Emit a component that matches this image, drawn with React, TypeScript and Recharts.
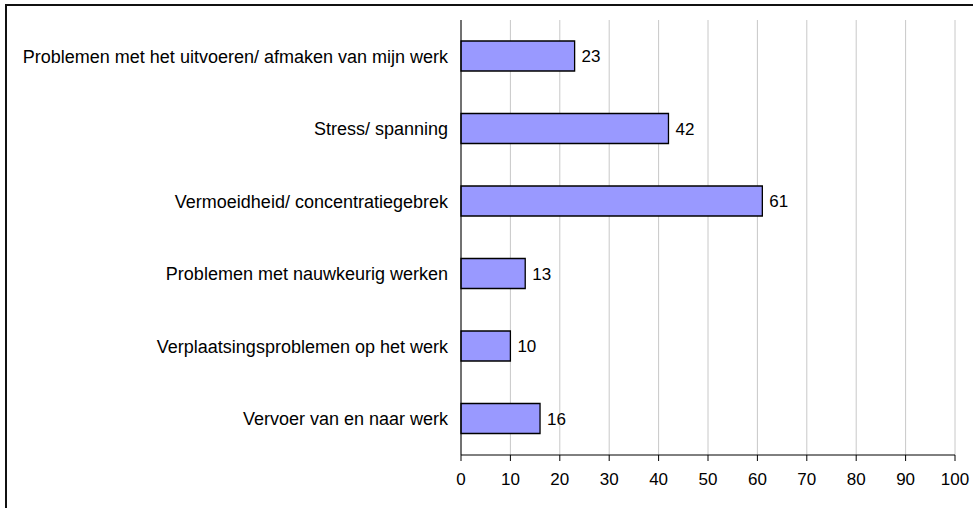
import { BarChart, Bar, XAxis, YAxis, CartesianGrid, LabelList } from 'recharts';

const categories = [
  'Problemen met het uitvoeren/ afmaken van mijn werk',
  'Stress/ spanning',
  'Vermoeidheid/ concentratiegebrek',
  'Problemen met nauwkeurig werken',
  'Verplaatsingsproblemen op het werk',
  'Vervoer van en naar werk',
];
const values = [23, 42, 61, 13, 10, 16];
const xTicks = [0, 10, 20, 30, 40, 50, 60, 70, 80, 90, 100];
const bandEdges = [0, 1, 2, 3, 4, 5, 6];

const data = categories.map((name, i) => ({ name, value: values[i] }));

const FONT = '"Liberation Sans", Arial, sans-serif';

// empty tick label, only the tick line is wanted
const NoLabel = () => <g />;

const App = () => {
  return (
    <div
      style={{
        position: 'absolute',
        left: 0,
        top: 0,
        width: 973,
        height: 508,
        overflow: 'hidden',
        background: '#fff',
        fontFamily: FONT,
      }}
    >
      <div
        style={{
          position: 'absolute',
          left: 5,
          top: 4,
          width: 1000,
          height: 600,
          borderTop: '2px solid #111',
          borderLeft: '2px solid #111',
        }}
      />
      <div style={{ position: 'absolute', left: 0, top: 0 }}>
        <BarChart
          width={973}
          height={508}
          data={data}
          layout='vertical'
          margin={{ top: 20, right: 18, bottom: 0, left: 0 }}
        >
          <CartesianGrid horizontal={false} stroke='#c8c8c8' />
          <XAxis
            type='number'
            domain={[0, 100]}
            ticks={xTicks}
            interval={0}
            height={53}
            tickSize={6}
            tickMargin={12}
            axisLine={{ stroke: '#000' }}
            tickLine={{ stroke: '#000' }}
            tick={{ fontSize: 17, fill: '#000', fontFamily: FONT }}
          />
          <XAxis
            xAxisId='top'
            orientation='top'
            type='number'
            domain={[0, 100]}
            height={0}
            tick={false}
            tickLine={false}
            axisLine={{ stroke: '#999' }}
          />
          <YAxis
            type='category'
            dataKey='name'
            width={461}
            tickLine={false}
            axisLine={{ stroke: '#000' }}
            tickSize={6}
            tickMargin={7}
            tick={{ fontSize: 18, fill: '#000', fontFamily: FONT }}
          />
          <YAxis
            yAxisId='edges'
            type='number'
            domain={[0, 6]}
            ticks={bandEdges}
            interval={0}
            width={0}
            tick={NoLabel}
            tickSize={6}
            tickLine={{ stroke: '#000' }}
            axisLine={{ stroke: '#000' }}
          />
          <YAxis
            yAxisId='right'
            orientation='right'
            type='number'
            domain={[0, 6]}
            width={0}
            tick={false}
            tickLine={false}
            axisLine={{ stroke: '#888' }}
          />
          <Bar
            dataKey='value'
            fill='#9999ff'
            stroke='#000'
            strokeWidth={1.3}
            barSize={30}
            isAnimationActive={false}
          >
            <LabelList
              dataKey='value'
              position='right'
              offset={7}
              fill='#000'
              fontSize={17}
              fontFamily={FONT}
            />
          </Bar>
        </BarChart>
      </div>
    </div>
  );
};

export default App;
